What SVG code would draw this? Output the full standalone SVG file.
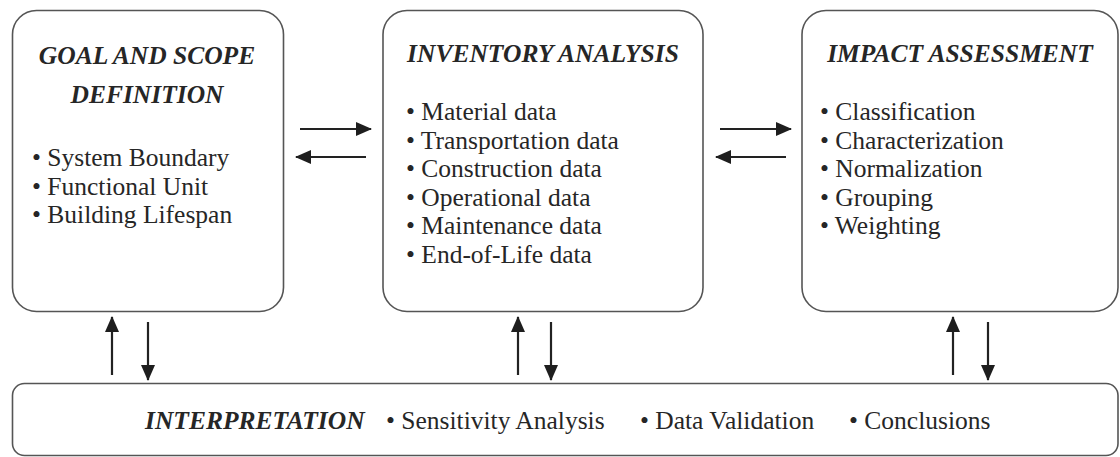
<svg xmlns="http://www.w3.org/2000/svg" width="1120" height="457" viewBox="0 0 1120 457">
<defs>
<style>
.box{fill:#fff;stroke:#555;stroke-width:1.6}
.t{font-family:"Liberation Serif","Times New Roman",serif;font-size:25.5px;fill:#262626}
.h{font-weight:bold;font-style:italic;text-anchor:middle}
.hb{font-weight:bold;font-style:italic}
.ln{stroke:#222;stroke-width:2.2;fill:none}
</style>
<marker id="ah" viewBox="0 0 16 14" refX="15" refY="7" markerWidth="16" markerHeight="14" markerUnits="userSpaceOnUse" orient="auto">
<path d="M0,0 L16,7 L0,14 z" fill="#1e1e1e"/>
</marker>
</defs>
<rect width="1120" height="457" fill="#fff"/>
<g id="goal">
<rect class="box" x="12.5" y="10.5" width="271" height="301" rx="24"/>
<text class="t h" x="147" y="64">GOAL AND SCOPE</text>
<text class="t h" x="147" y="103">DEFINITION</text>
<text class="t" x="32" y="166">• System Boundary</text>
<text class="t" x="32" y="195">• Functional Unit</text>
<text class="t" x="32" y="223">• Building Lifespan</text>
</g>
<g id="inventory">
<rect class="box" x="383" y="10.5" width="320" height="301" rx="24"/>
<text class="t h" x="543" y="62">INVENTORY ANALYSIS</text>
<text class="t" x="406" y="120">• Material data</text>
<text class="t" x="406" y="149">• Transportation data</text>
<text class="t" x="406" y="177">• Construction data</text>
<text class="t" x="406" y="206">• Operational data</text>
<text class="t" x="406" y="234">• Maintenance data</text>
<text class="t" x="406" y="263">• End-of-Life data</text>
</g>
<g id="impact">
<rect class="box" x="802" y="10.5" width="316" height="301" rx="24"/>
<text class="t h" x="960" y="62">IMPACT ASSESSMENT</text>
<text class="t" x="820" y="120">• Classification</text>
<text class="t" x="820" y="149">• Characterization</text>
<text class="t" x="820" y="177">• Normalization</text>
<text class="t" x="820" y="206">• Grouping</text>
<text class="t" x="820" y="234">• Weighting</text>
</g>
<g id="interpretation">
<rect class="box" x="12.5" y="383.5" width="1105.5" height="72" rx="12"/>
<text class="t hb" x="145" y="429">INTERPRETATION</text>
<text class="t" x="386" y="429">• Sensitivity Analysis</text>
<text class="t" x="640" y="429">• Data Validation</text>
<text class="t" x="849" y="429">• Conclusions</text>
</g>
<g id="connectors">
<line class="ln" x1="300" y1="129" x2="371" y2="129" marker-end="url(#ah)"/>
<line class="ln" x1="366" y1="157" x2="296" y2="157" marker-end="url(#ah)"/>
<line class="ln" x1="720" y1="129" x2="791" y2="129" marker-end="url(#ah)"/>
<line class="ln" x1="786" y1="157" x2="716" y2="157" marker-end="url(#ah)"/>
<line class="ln" x1="112" y1="375" x2="112" y2="317" marker-end="url(#ah)"/>
<line class="ln" x1="148" y1="322" x2="148" y2="380" marker-end="url(#ah)"/>
<line class="ln" x1="518" y1="375" x2="518" y2="317" marker-end="url(#ah)"/>
<line class="ln" x1="551" y1="322" x2="551" y2="380" marker-end="url(#ah)"/>
<line class="ln" x1="953" y1="375" x2="953" y2="317" marker-end="url(#ah)"/>
<line class="ln" x1="988" y1="322" x2="988" y2="380" marker-end="url(#ah)"/>
</g>
</svg>
